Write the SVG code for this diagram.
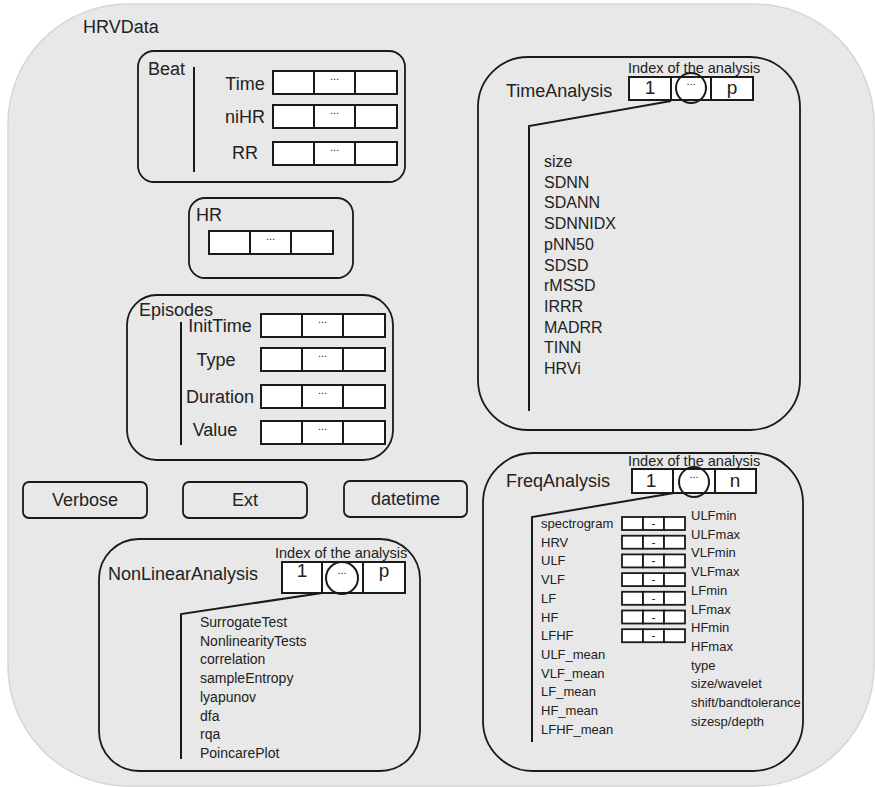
<svg xmlns="http://www.w3.org/2000/svg" xmlns:xlink="http://www.w3.org/1999/xlink" width="875" height="787" viewBox="0 0 875 787">
<style>
text{font-family:"Liberation Sans",Arial,sans-serif;fill:#222}
.lbl{font-size:18px}
.mid{text-anchor:middle}
.idx{font-size:14.5px}
.num{font-size:19px;text-anchor:middle}
.box{fill:none;stroke:#1a1a1a;stroke-width:1.8}
.cell{fill:#fff;stroke:#1a1a1a;stroke-width:2}
.dots{font-size:11px;text-anchor:middle}
.ln{fill:none;stroke:#1a1a1a;stroke-width:2}
.circ{fill:none;stroke:#1a1a1a;stroke-width:2}
.l16{font-size:16px}
.l14{font-size:14px}
.l13{font-size:13px}
.dash{font-size:12px;text-anchor:middle}
</style>
<defs>
<g id="arr3">
<rect class="cell" x="0" y="0" width="41" height="23"/>
<rect class="cell" x="41" y="0" width="41" height="23"/>
<rect class="cell" x="82" y="0" width="42" height="23"/>
<text class="dots" x="61.5" y="9">...</text>
</g>
<g id="arrS">
<rect class="cell" x="0" y="0" width="21" height="13" style="stroke-width:1.8"/>
<rect class="cell" x="21" y="0" width="21" height="13" style="stroke-width:1.8"/>
<rect class="cell" x="42" y="0" width="21" height="13" style="stroke-width:1.8"/>
<text class="dash" x="31.5" y="11">-</text>
</g>
</defs>

<g id="HRVData">
<rect x="8" y="4" width="866" height="782" rx="120" ry="120" fill="#e8e8e8" stroke="#d6d6d6" stroke-width="1.5"/>
<text class="lbl" x="83" y="33">HRVData</text>
</g>

<g id="Beat">
<rect class="box" x="138" y="51" width="267" height="131" rx="16"/>
<text class="lbl" x="148" y="75">Beat</text>
<line class="ln" x1="194" y1="67" x2="194" y2="172"/>
<text class="lbl mid" x="245" y="90">Time</text>
<use xlink:href="#arr3" x="273" y="71"/>
<text class="lbl mid" x="245" y="123">niHR</text>
<use xlink:href="#arr3" x="273" y="105"/>
<text class="lbl mid" x="245" y="159">RR</text>
<use xlink:href="#arr3" x="273" y="142"/>
</g>

<g id="HR">
<rect class="box" x="189" y="198" width="164" height="80" rx="16"/>
<text class="lbl" x="196" y="221">HR</text>
<use xlink:href="#arr3" x="209" y="231"/>
</g>

<g id="Episodes">
<rect class="box" x="127" y="295" width="266" height="165" rx="30"/>
<text class="lbl" x="139" y="316">Episodes</text>
<line class="ln" x1="181" y1="322" x2="181" y2="445"/>
<text class="lbl mid" x="220" y="332">InitTime</text>
<use xlink:href="#arr3" x="261" y="314"/>
<text class="lbl mid" x="216" y="366">Type</text>
<use xlink:href="#arr3" x="261" y="348"/>
<text class="lbl mid" x="220" y="403">Duration</text>
<use xlink:href="#arr3" x="261" y="385"/>
<text class="lbl mid" x="215" y="436">Value</text>
<use xlink:href="#arr3" x="261" y="421"/>
</g>

<g id="Verbose">
<rect class="box" x="23" y="482" width="124" height="36" rx="6"/>
<text class="lbl mid" x="85" y="506">Verbose</text>
</g>
<g id="Ext">
<rect class="box" x="183" y="482" width="124" height="36" rx="6"/>
<text class="lbl mid" x="245" y="506">Ext</text>
</g>
<g id="datetime">
<rect class="box" x="344" y="481" width="123" height="36" rx="6"/>
<text class="lbl mid" x="405.5" y="505">datetime</text>
</g>

<g id="TimeAnalysis">
<rect class="box" x="478" y="57" width="322" height="373" rx="50"/>
<text class="lbl" x="506" y="97">TimeAnalysis</text>
<text class="idx" x="628" y="73">Index of the analysis</text>
<rect class="cell" x="629" y="77" width="42" height="23"/>
<rect class="cell" x="671" y="77" width="40" height="23"/>
<rect class="cell" x="711" y="77" width="42" height="23"/>
<text class="num" x="650" y="94">1</text>
<text class="num" x="732" y="94">p</text>
<circle class="circ" cx="691" cy="88" r="15"/>
<text class="dots" x="691" y="85">...</text>
<g class="l16">
<text x="544" y="167">size</text>
<text x="544" y="187.7">SDNN</text>
<text x="544" y="208.4">SDANN</text>
<text x="544" y="229.1">SDNNIDX</text>
<text x="544" y="249.8">pNN50</text>
<text x="544" y="270.5">SDSD</text>
<text x="544" y="291.2">rMSSD</text>
<text x="544" y="311.9">IRRR</text>
<text x="544" y="332.6">MADRR</text>
<text x="544" y="353.3">TINN</text>
<text x="544" y="374">HRVi</text>
</g>
</g>

<g id="NonLinearAnalysis">
<rect class="box" x="99" y="539" width="321" height="232" rx="40"/>
<text class="lbl" x="108" y="580">NonLinearAnalysis</text>
<text class="idx" x="275" y="558">Index of the analysis</text>
<rect class="cell" x="282" y="562" width="40" height="31"/>
<rect class="cell" x="322" y="562" width="41" height="31"/>
<rect class="cell" x="363" y="562" width="42" height="31"/>
<text class="num" x="302" y="577">1</text>
<text class="num" x="384" y="577">p</text>
<circle class="circ" cx="342" cy="578" r="16"/>
<text class="dots" x="342" y="574">...</text>
<g class="l14">
<text x="200" y="627">SurrogateTest</text>
<text x="200" y="645.7">NonlinearityTests</text>
<text x="200" y="664.4">correlation</text>
<text x="200" y="683.1">sampleEntropy</text>
<text x="200" y="701.8">lyapunov</text>
<text x="200" y="720.5">dfa</text>
<text x="200" y="739.2">rqa</text>
<text x="200" y="757.9">PoincarePlot</text>
</g>
</g>

<g id="FreqAnalysis">
<rect class="box" x="483" y="453" width="320" height="318" rx="50"/>
<text class="lbl" x="506" y="487">FreqAnalysis</text>
<text class="idx" x="628" y="466">Index of the analysis</text>
<rect class="cell" x="632" y="469" width="41" height="24"/>
<rect class="cell" x="673" y="469" width="42" height="24"/>
<rect class="cell" x="715" y="469" width="41" height="24"/>
<text class="num" x="651" y="487">1</text>
<text class="num" x="735" y="487">n</text>
<circle class="circ" cx="694" cy="482" r="15"/>
<text class="dots" x="694" y="478">...</text>
<g class="l13">
<text x="541" y="528">spectrogram</text>
<text x="541" y="546.7">HRV</text>
<text x="541" y="565.4">ULF</text>
<text x="541" y="584.1">VLF</text>
<text x="541" y="602.8">LF</text>
<text x="541" y="621.5">HF</text>
<text x="541" y="640.2">LFHF</text>
<text x="541" y="658.9">ULF_mean</text>
<text x="541" y="677.6">VLF_mean</text>
<text x="541" y="696.3">LF_mean</text>
<text x="541" y="715">HF_mean</text>
<text x="541" y="733.7">LFHF_mean</text>
</g>
<use xlink:href="#arrS" x="622" y="517"/>
<use xlink:href="#arrS" x="622" y="535.7"/>
<use xlink:href="#arrS" x="622" y="554.4"/>
<use xlink:href="#arrS" x="622" y="573.1"/>
<use xlink:href="#arrS" x="622" y="591.8"/>
<use xlink:href="#arrS" x="622" y="610.5"/>
<use xlink:href="#arrS" x="622" y="629.2"/>
<g class="l13">
<text x="691" y="520">ULFmin</text>
<text x="691" y="538.7">ULFmax</text>
<text x="691" y="557.4">VLFmin</text>
<text x="691" y="576.1">VLFmax</text>
<text x="691" y="594.8">LFmin</text>
<text x="691" y="613.5">LFmax</text>
<text x="691" y="632.2">HFmin</text>
<text x="691" y="650.9">HFmax</text>
<text x="691" y="669.6">type</text>
<text x="691" y="688.3">size/wavelet</text>
<text x="691" y="707">shift/bandtolerance</text>
<text x="691" y="725.7">sizesp/depth</text>
</g>
</g>

<g id="connectors">
<polyline class="ln" points="671,101 529,126 529,411"/>
<polyline class="ln" points="322,593 181,614 181,759"/>
<polyline class="ln" points="674,493 532,517 532,742"/>
</g>
</svg>
